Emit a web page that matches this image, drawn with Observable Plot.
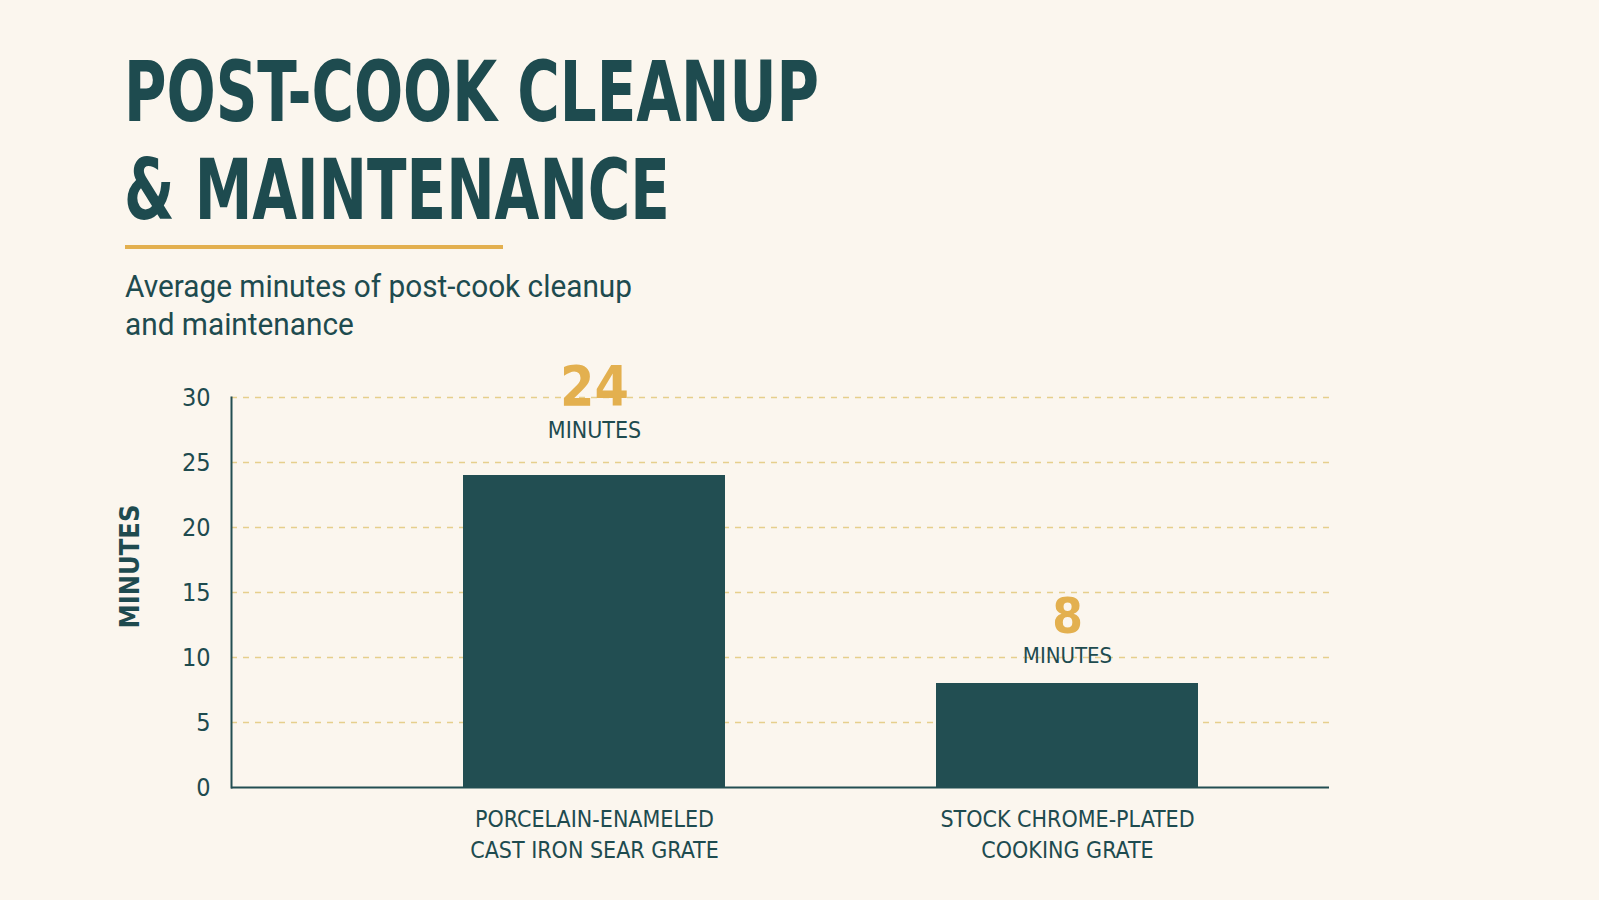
<!DOCTYPE html>
<html>
<head>
<meta charset="utf-8">
<script src="https://cdn.jsdelivr.net/npm/d3@7"></script>
<script src="https://cdn.jsdelivr.net/npm/@observablehq/plot@0.6"></script>
<style>
  html, body { margin: 0; padding: 0; background: #fbf6ee; }
  body { width: 1599px; height: 900px; position: relative; overflow: hidden; }
  .t { position: absolute; white-space: nowrap; transform-origin: 0 0; color: #1e4b4f; }
  .title { font-family: "Liberation Sans Narrow", "DejaVu Sans Condensed", Roboto, sans-serif; font-weight: 700; font-size: 84px; line-height: 98px; }
  .sub { font-family: Roboto, "Liberation Sans", sans-serif; font-weight: 400; font-size: 31px; line-height: 38px; }
  #rule { position: absolute; left: 125px; top: 245px; width: 378px; height: 4px; background: #e3b04f; }
  #chart { position: absolute; left: 0; top: 340px; }
</style>
</head>
<body>
<div class="t title" id="title">POST-COOK CLEANUP<br>&amp; MAINTENANCE</div>
<div id="rule"></div>
<div class="t sub" id="sub">Average minutes of post-cook cleanup<br>and maintenance</div>
<div id="chart"></div>
<script>
// ---- data ----
const categories = ["PORCELAIN-ENAMELED\nCAST IRON SEAR GRATE", "STOCK CHROME-PLATED\nCOOKING GRATE"];
const values = [24, 8];
const unitLabel = "MINUTES";
const yTicks = [0, 5, 10, 15, 20, 25, 30];

const data = categories.map((c, i) => ({category: c, value: values[i], idx: i}));

const teal = "#224e52";
const ink = "#1e4b4f";
const gold = "#e3b04f";
const narrow = '"Liberation Sans Narrow", "DejaVu Sans Condensed", Roboto, sans-serif';

// place header block by first-line baseline and fit its width
function place(id, left, baseline, targetWidth) {
  const el = document.getElementById(id);
  el.style.left = left + "px";
  el.style.top = "0px";
  const r = el.getBoundingClientRect();
  const probe = document.createElement("span");
  probe.style.display = "inline-block"; probe.style.width = "1px"; probe.style.height = "0px";
  el.insertBefore(probe, el.firstChild);
  const base = probe.getBoundingClientRect().top - r.top;
  el.removeChild(probe);
  el.style.top = (baseline - base) + "px";
  if (targetWidth) el.style.transform = `scaleX(${targetWidth / r.width})`;
}
place("title", 124, 121, 695);
place("sub", 125, 297, 507);

const plot = Plot.plot({
  width: 1599,
  height: 560,
  marginLeft: 231,
  marginRight: 270,
  marginTop: 57,
  marginBottom: 113,
  style: {background: "transparent", color: ink, fontFamily: narrow},
  x: {domain: categories, range: [462, 1198], paddingInner: 0.447, paddingOuter: 0, label: null},
  y: {domain: [0, 30], label: null},
  marks: [
    Plot.gridY(yTicks.filter(d => d > 0), {stroke: "#e6cf8c", strokeOpacity: 1, strokeWidth: 1.3, strokeDasharray: "6,6"}),
    Plot.barY(data, {x: "category", y: "value", fill: teal}),
    Plot.ruleY([0], {stroke: teal, strokeWidth: 2}),
    Plot.frame({anchor: "left", stroke: teal, strokeWidth: 2}),
    Plot.axisY({ticks: yTicks, tickSize: 0, tickPadding: 21, fontSize: 25, label: null, fill: ink}),
    Plot.axisX({tickSize: 0, tickPadding: 17, fontSize: 23, lineHeight: 1.35, label: null, fill: ink}),
    Plot.text([unitLabel], {frameAnchor: "left", rotate: -90, dx: -101, dy: -26, fontSize: 27, fontWeight: 700, fill: ink, textAnchor: "middle", lineAnchor: "middle"}),
    // value labels
    Plot.text(data.filter(d => d.idx === 0), {x: "category", y: "value", text: d => String(d.value), dy: -71, fontSize: 55, fontWeight: 700, fill: gold, lineAnchor: "bottom"}),
    Plot.text(data.filter(d => d.idx === 1), {x: "category", y: "value", text: d => String(d.value), dy: -51, fontSize: 49, fontWeight: 700, fill: gold, lineAnchor: "bottom"}),
    Plot.text(data.filter(d => d.idx === 0), {x: "category", y: "value", text: () => unitLabel, dy: -38, fontSize: 23, fontWeight: 400, fill: ink, lineAnchor: "bottom"}),
    Plot.text(data.filter(d => d.idx === 1), {x: "category", y: "value", text: () => unitLabel, dy: -21, fontSize: 22, fontWeight: 400, fill: ink, lineAnchor: "bottom"})
  ]
});
document.getElementById("chart").appendChild(plot);
</script>
</body>
</html>
